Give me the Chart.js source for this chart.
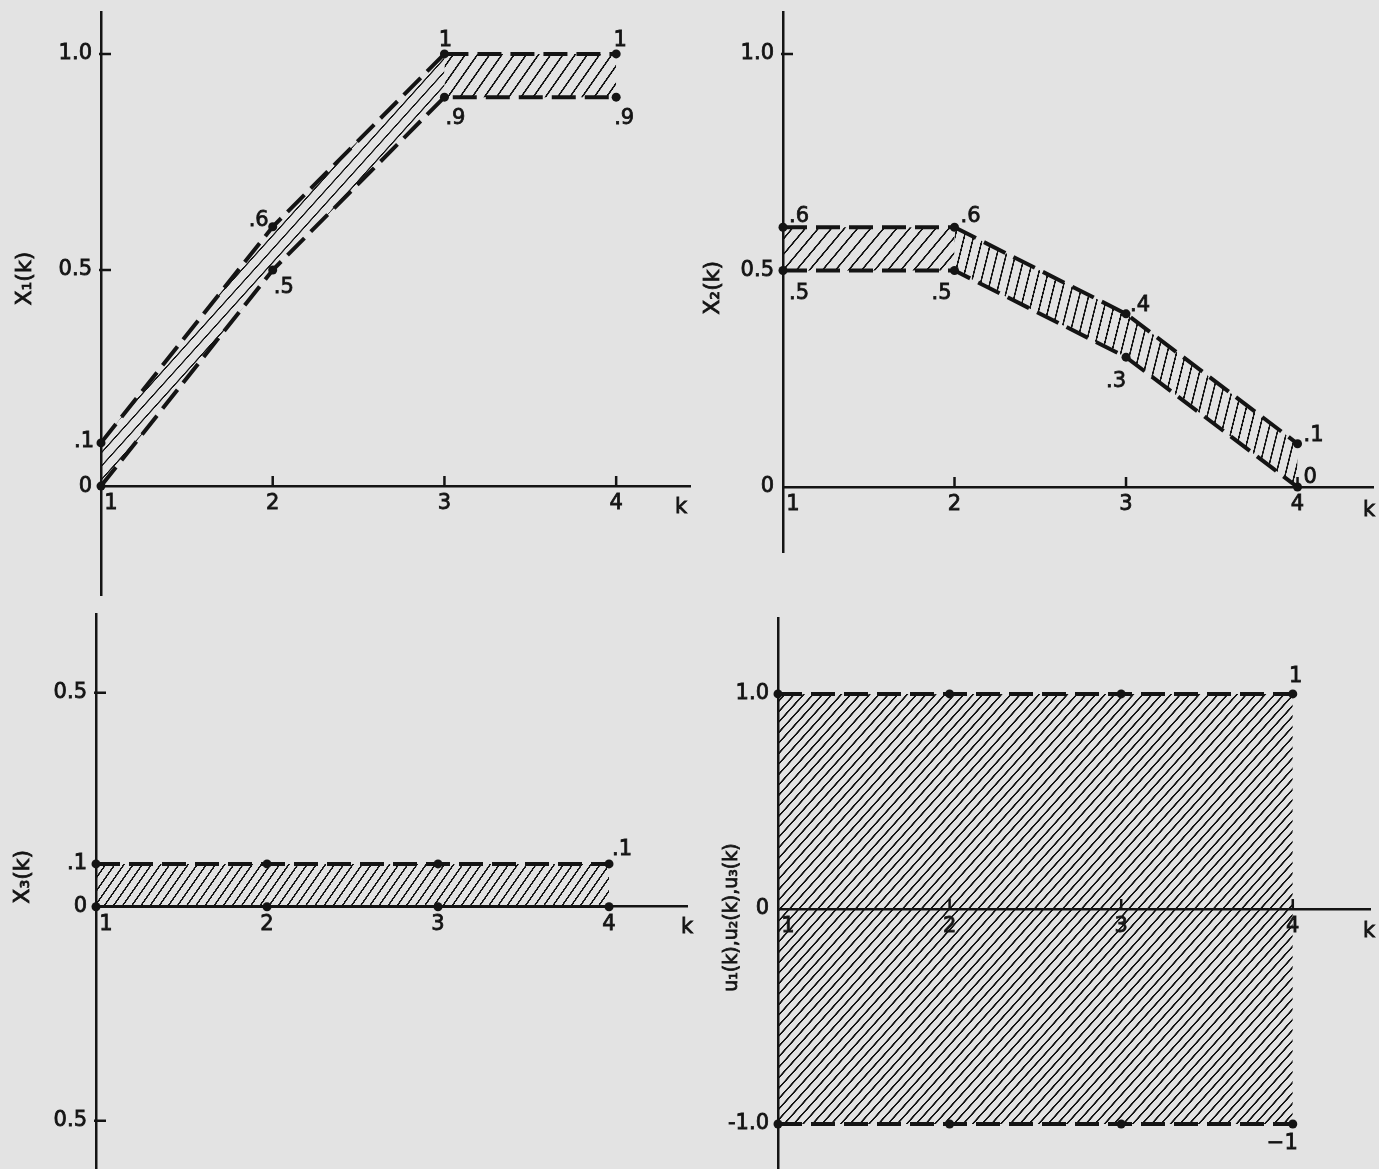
<!DOCTYPE html>
<html>
<head>
<meta charset="utf-8">
<script src="https://cdn.jsdelivr.net/npm/chart.js@4/dist/chart.umd.min.js"></script>
<style>
  html, body { margin: 0; padding: 0; width: 1379px; height: 1169px; overflow: hidden; background: #e3e3e3; }
  canvas { position: absolute; }
</style>
</head>
<body>
<canvas id="p1"></canvas>
<canvas id="p2"></canvas>
<canvas id="p3"></canvas>
<canvas id="p4"></canvas>
<script>
// ---- data ----
const kSteps = [1, 2, 3, 4];
const kTickLabels = ['   1', '2', '3', '4'];

const x1Upper = [0.1, 0.6, 1.0, 1.0];
const x1Lower = [0, 0.5, 0.9, 0.9];
const x2Upper = [0.6, 0.6, 0.4, 0.1];
const x2Lower = [0.5, 0.5, 0.3, 0];
const x3Upper = [0.1, 0.1, 0.1, 0.1];
const x3Lower = [0, 0, 0, 0];
const uUpper = [1, 1, 1, 1];
const uLower = [-1, -1, -1, -1];

const x1TickValues = [0, 0.5, 1.0];
const x1TickLabels = ['0', '0.5', '1.0'];
const x2TickValues = [0, 0.5, 1.0];
const x2TickLabels = ['0', '0.5', '1.0'];
const x3TickValues = [-0.5, 0, 0.1, 0.5];
const x3TickLabels = ['0.5', '0', '.1', '0.5'];
const uTickValues = [-1, 0, 1];
const uTickLabels = ['-1.0', '0', '1.0'];

// ---- styling ----
const INK = '#141414';
const FONT_FAMILY = '"DejaVu Sans", sans-serif';
const FONT_SIZE = 21;
const TEXT_STROKE = 0.8;
const DASH = [24, 9];
const Y_W = 95, PAD_T = 25, PAD_B = 25, PAD_R = 30;

// value written next to a bound point: .6, 1, 0, −1
function formatValue(v) {
  if (v === 0) return '0';
  const sign = v < 0 ? '\u2212' : '';
  const a = Math.abs(v);
  return sign + (Number.isInteger(a) ? String(a) : String(a).replace(/^0/, ''));
}

// diagonal line shading for the admissible band
function hatch(angle, spacing, width) {
  const R = 4;
  const t = document.createElement('canvas');
  t.width = 4 * R;
  t.height = Math.round(spacing * R);
  const c = t.getContext('2d');
  c.fillStyle = INK;
  c.fillRect(0, (t.height - width * R) / 2, t.width, width * R);
  const p = c.createPattern(t, 'repeat');
  p.setTransform(new DOMMatrix().rotateSelf(-angle).scaleSelf(1 / R, 1 / R));
  return p;
}

const toXY = arr => arr.map((v, i) => ({ x: kSteps[i], y: v }));

function inkText(ctx, s, x, y) {
  ctx.fillText(s, x, y);
  ctx.strokeText(s, x, y);
}

// per-panel decorations: tick marks, axis names, bound values
const decor = {};
const panelDecor = {
  id: 'panelDecor',
  afterDraw(chart) {
    const d = decor[chart.canvas.id];
    const ctx = chart.ctx;
    const xs = chart.scales.x, ys = chart.scales.y;
    const axisX = ys.right, axisY = ys.getPixelForValue(0);
    ctx.save();
    ctx.strokeStyle = INK;
    ctx.fillStyle = INK;
    ctx.lineWidth = 2.5;
    ctx.beginPath();
    ys.ticks.forEach(t => {
      if (t.value === 0 || !d.yTickMarks) return;
      const py = ys.getPixelForValue(t.value);
      ctx.moveTo(axisX - 2, py); ctx.lineTo(axisX + 10, py);
    });
    if (d.xTickMarks) {
      xs.ticks.forEach(t => {
        if (t.value === xs.min) return;
        const px = xs.getPixelForValue(t.value);
        ctx.moveTo(px, axisY); ctx.lineTo(px, axisY - 10);
      });
    }
    ctx.stroke();

    ctx.lineWidth = TEXT_STROKE;
    ctx.font = FONT_SIZE + 'px ' + FONT_FAMILY;
    ctx.textBaseline = 'middle';
    ctx.textAlign = 'center';
    inkText(ctx, 'k', xs.right + d.kDx, axisY + d.kDy);

    ctx.save();
    ctx.translate(axisX + d.titleDx, ys.getPixelForValue(d.titleAt));
    ctx.rotate(-Math.PI / 2);
    ctx.font = d.titleSize + 'px ' + FONT_FAMILY;
    inkText(ctx, d.title, 0, 0);
    ctx.restore();

    ctx.font = FONT_SIZE + 'px ' + FONT_FAMILY;
    d.notes.forEach(n => {
      const el = chart.getDatasetMeta(n.ds).data[n.i];
      const v = chart.data.datasets[n.ds].data[n.i].y;
      ctx.textAlign = n.align;
      inkText(ctx, formatValue(v), el.x + n.dx, el.y + n.dy);
    });
    ctx.restore();
  }
};

function buildPanel(spec) {
  const cv = document.getElementById(spec.id);
  const left = spec.area.l - Y_W;
  const top = spec.area.t - PAD_T;
  cv.width = spec.area.r - left + PAD_R;
  cv.height = spec.area.b - top + PAD_B;
  cv.style.left = left + 'px';
  cv.style.top = top + 'px';
  decor[spec.id] = spec.decor;

  const lineStyle = {
    borderColor: INK, borderWidth: 4, borderDash: DASH, borderCapStyle: 'butt',
    pointRadius: 4.5, pointBackgroundColor: INK, pointBorderWidth: 0,
    tension: 0, clip: false
  };
  const tickFont = { family: FONT_FAMILY, size: FONT_SIZE };

  return new Chart(cv, {
    type: 'line',
    data: {
      datasets: [
        Object.assign({}, lineStyle, {
          data: toXY(spec.upper),
          fill: '+1',
          backgroundColor: spec.shade(0),
          segment: { backgroundColor: ctx => spec.shade(ctx.p0DataIndex) }
        }),
        Object.assign({}, lineStyle, {
          data: toXY(spec.lower),
          fill: false
        }, spec.lowerStyle || {})
      ]
    },
    options: {
      responsive: false,
      animation: false,
      devicePixelRatio: 1,
      events: [],
      layout: { padding: { left: 0, top: PAD_T, right: PAD_R, bottom: PAD_B } },
      plugins: {
        legend: { display: false },
        tooltip: { enabled: false },
        filler: { propagate: false, drawTime: 'beforeDatasetsDraw' }
      },
      scales: {
        x: {
          type: 'linear', min: 1, max: spec.xMax, position: { y: 0 },
          afterBuildTicks: s => { s.ticks = kSteps.map(v => ({ value: v })); },
          ticks: {
            callback: (v, i) => kTickLabels[i], color: INK, font: tickFont,
            textStrokeColor: INK, textStrokeWidth: TEXT_STROKE,
            padding: 5, maxRotation: 0, autoSkip: false
          },
          grid: { display: true, drawOnChartArea: false, drawTicks: false },
          border: { display: true, color: INK, width: 2.5 }
        },
        y: {
          type: 'linear', min: spec.yMin, max: spec.yMax, position: 'left',
          afterBuildTicks: s => { s.ticks = spec.yTicks.map(v => ({ value: v })); },
          afterFit: s => { s.width = Y_W; },
          ticks: {
            callback: (v, i) => spec.yLabels[i], color: INK, font: tickFont,
            textStrokeColor: INK, textStrokeWidth: TEXT_STROKE,
            padding: 9, autoSkip: false
          },
          grid: { display: true, drawOnChartArea: false, drawTicks: false },
          border: { display: true, color: INK, width: 2.5 }
        }
      }
    },
    plugins: [panelDecor]
  });
}

// x1(k)
const p1Slope = hatch(48, 9, 1.3), p1Flat = hatch(55, 10, 1.6);
buildPanel({
  id: 'p1', area: { l: 101, t: 12, r: 690, b: 595 },
  xMax: 4.43, yMin: -0.252, yMax: 1.097,
  yTicks: x1TickValues, yLabels: x1TickLabels,
  upper: x1Upper, lower: x1Lower,
  shade: i => (i < 2 ? p1Slope : p1Flat),
  decor: {
    title: 'X\u2081(k)', titleSize: 22, titleDx: -76, titleAt: 0.48,
    kDx: -9, kDy: 21, xTickMarks: true, yTickMarks: true,
    notes: [
      { ds: 0, i: 0, dx: -7, dy: -1, align: 'right' },
      { ds: 0, i: 1, dx: -4, dy: -6, align: 'right' },
      { ds: 1, i: 1, dx: 1, dy: 18, align: 'left' },
      { ds: 0, i: 2, dx: 1, dy: -13, align: 'center' },
      { ds: 0, i: 3, dx: 4, dy: -13, align: 'center' },
      { ds: 1, i: 2, dx: 1, dy: 21, align: 'left' },
      { ds: 1, i: 3, dx: -2, dy: 21, align: 'left' }
    ]
  }
});

// x2(k)
const p2Flat = hatch(50, 10, 1.6), p2Slope = hatch(76, 9, 1.6);
buildPanel({
  id: 'p2', area: { l: 783, t: 12, r: 1373, b: 552 },
  xMax: 4.44, yMin: -0.150, yMax: 1.097,
  yTicks: x2TickValues, yLabels: x2TickLabels,
  upper: x2Upper, lower: x2Lower,
  shade: i => (i < 1 ? p2Flat : p2Slope),
  decor: {
    title: 'X\u2082(k)', titleSize: 22, titleDx: -70, titleAt: 0.46,
    kDx: -4, kDy: 24, xTickMarks: true, yTickMarks: true,
    notes: [
      { ds: 0, i: 0, dx: 6, dy: -11, align: 'left' },
      { ds: 1, i: 0, dx: 6, dy: 23, align: 'left' },
      { ds: 0, i: 1, dx: 6, dy: -11, align: 'left' },
      { ds: 1, i: 1, dx: -3, dy: 23, align: 'right' },
      { ds: 0, i: 2, dx: 4, dy: -8, align: 'left' },
      { ds: 1, i: 2, dx: 0, dy: 24, align: 'right' },
      { ds: 0, i: 3, dx: 6, dy: -8, align: 'left' },
      { ds: 1, i: 3, dx: 6, dy: -9, align: 'left' }
    ]
  }
});

// x3(k)
const p3Shade = hatch(55, 7.5, 1.5);
buildPanel({
  id: 'p3', area: { l: 96, t: 614, r: 687, b: 1175 },
  xMax: 4.456, yMin: -0.627, yMax: 0.684,
  yTicks: x3TickValues, yLabels: x3TickLabels,
  upper: x3Upper, lower: x3Lower,
  lowerStyle: { borderDash: [], borderWidth: 2.5 },
  shade: () => p3Shade,
  decor: {
    title: 'X\u2083(k)', titleSize: 22, titleDx: -73, titleAt: 0.07,
    kDx: 0, kDy: 21, xTickMarks: false, yTickMarks: true,
    notes: [
      { ds: 0, i: 3, dx: 3, dy: -14, align: 'left' }
    ]
  }
});

// u1(k), u2(k), u3(k)
const p4Shade = hatch(48, 7, 1.6);
buildPanel({
  id: 'p4', area: { l: 778, t: 618, r: 1370, b: 1175 },
  xMax: 4.45, yMin: -1.237, yMax: 1.353,
  yTicks: uTickValues, yLabels: uTickLabels,
  upper: uUpper, lower: uLower,
  shade: () => p4Shade,
  decor: {
    title: 'u\u2081(k),u\u2082(k),u\u2083(k)', titleSize: 19, titleDx: -46, titleAt: -0.04,
    kDx: -1, kDy: 23, xTickMarks: true, yTickMarks: true,
    notes: [
      { ds: 0, i: 3, dx: 3, dy: -17, align: 'center' },
      { ds: 1, i: 3, dx: 5, dy: 20, align: 'right' }
    ]
  }
});
</script>
</body>
</html>
